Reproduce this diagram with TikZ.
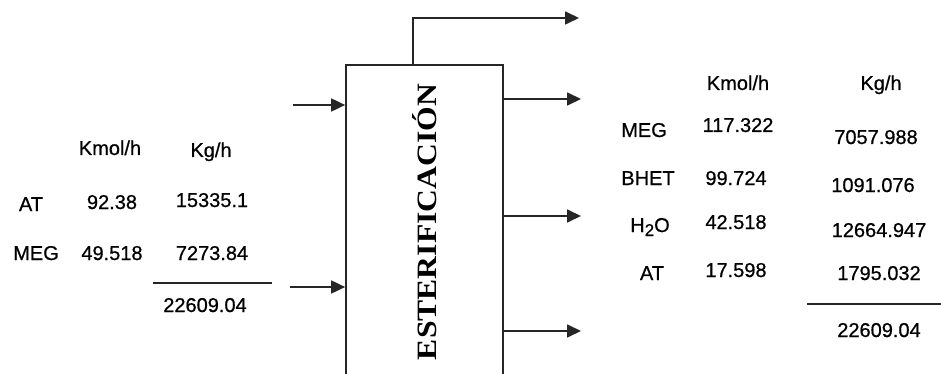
\documentclass[tikz,border=0pt]{standalone}
\usepackage{fontspec}
\setmainfont{Liberation Sans}[FakeBold=0.7]
\newfontfamily\titlefont{Liberation Serif}
\usetikzlibrary{arrows.meta}
\tikzset{
  tx/.style={inner sep=0pt, anchor=base, font=\fontsize{20}{24}\selectfont},
  ln/.style={line width=1.7pt, draw=black!85},
  arr/.style={ln, -{Triangle[length=14pt,width=13pt]}},
  unit/.style={ln, minimum width=157pt, minimum height=340pt, inner sep=0pt},
}
\begin{document}
\begin{tikzpicture}[x=1pt,y=-1pt]
\useasboundingbox (0,0) rectangle (941,374);
% reactor box (extends past bottom edge)
\node[unit, draw] (box) at (424.5,235) {};
\node[inner sep=0pt, rotate=90] (title) at (424.5,222)
  {\scalebox{1.13}[1]{\titlefont\bfseries\fontsize{28}{30}\selectfont ESTERIFICACIÓN}};
% inputs
\coordinate (in1) at (293,105);
\coordinate (in2) at (290,287);
\draw[arr] (in1) -- (in1 -| box.west);
\draw[arr] (in2) -- (in2 -| box.west);
% outputs
\coordinate (k) at (413,0);
\coordinate (o0) at (579,18);
\coordinate (o1) at (581,99);
\coordinate (o2) at (581,216);
\coordinate (o3) at (581,331);
\draw[arr] (k |- box.north) |- (o0);
\draw[arr] (o1 -| box.east) -- (o1);
\draw[arr] (o2 -| box.east) -- (o2);
\draw[arr] (o3 -| box.east) -- (o3);
% left table
\node[tx] (lh1) at (110,155) {Kmol/h};
\node[tx] (lh2) at (211,157) {Kg/h};
\node[tx] (la1) at (31,211) {AT};
\node[tx] (la2) at (112,209) {92.38};
\node[tx] (la3) at (212,207) {15335.1};
\node[tx] (lm1) at (36,260) {MEG};
\node[tx] (lm2) at (112,260) {49.518};
\node[tx] (lm3) at (212,260) {7273.84};
\coordinate (ll1) at (153,283);
\coordinate (ll2) at (272,283);
\draw[ln] (ll1) -- (ll2);
\node[tx] (lt) at (205,312) {22609.04};
% right table
\node[tx] (rh1) at (738,90) {Kmol/h};
\node[tx] (rh2) at (881,90) {Kg/h};
\node[tx] (rm1) at (644,137) {MEG};
\node[tx] (rm2) at (738,132) {117.322};
\node[tx] (rm3) at (876,144) {7057.988};
\node[tx] (rb1) at (648,185) {BHET};
\node[tx] (rb2) at (736,185) {99.724};
\node[tx] (rb3) at (873,192) {1091.076};
\node[tx] (rw1) at (650,232) {H\raisebox{-4pt}{\fontsize{17}{17}\selectfont 2}O};
\node[tx] (rw2) at (736,229) {42.518};
\node[tx] (rw3) at (879,237) {12664.947};
\node[tx] (ra1) at (652,280) {AT};
\node[tx] (ra2) at (736,277) {17.598};
\node[tx] (ra3) at (879,280) {1795.032};
\coordinate (rl1) at (807,304);
\coordinate (rl2) at (941,304);
\draw[ln] (rl1) -- (rl2);
\node[tx] (rt) at (879,337) {22609.04};
\end{tikzpicture}
\end{document}
